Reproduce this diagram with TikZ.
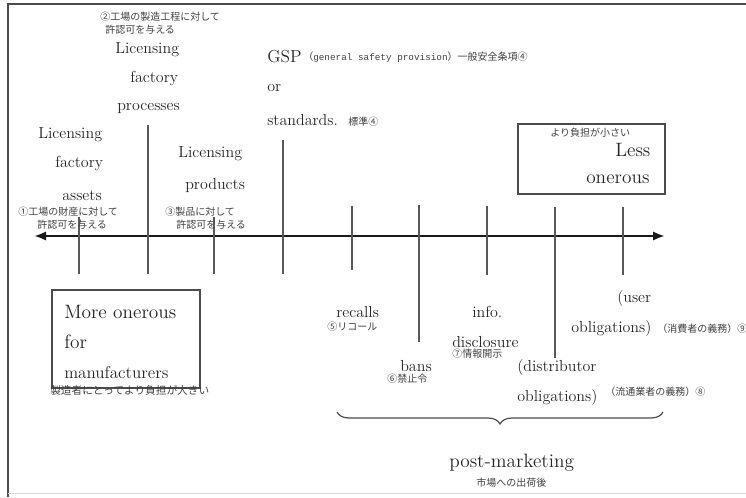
\documentclass[tikz,border=0pt]{standalone}
\usepackage{fontspec}
\newfontfamily\jpf{Noto Sans CJK JP}
\newfontfamily\monof{Liberation Mono}
\usetikzlibrary{arrows.meta,decorations.pathreplacing}
\begin{document}
\begin{tikzpicture}[x=0.75pt,y=-0.75pt,
  every node/.style={inner sep=0pt, anchor=west},
  en/.style={font=\fontsize{12}{14}\selectfont, text=black!85},
  big/.style={font=\fontsize{14.5}{16}\selectfont, text=black!85},
  jp/.style={font=\jpf\fontsize{7.5}{8.5}\selectfont, text=black!75},
  tickline/.style={draw=black!65, line width=1.2pt},
  boxline/.style={draw=black!70, line width=1pt}]
\useasboundingbox (0,0) rectangle (746,497);
\clip (0,0) rectangle (746,497);
% frame
\coordinate (fbl) at (8,497); \coordinate (ftl) at (8,4); \coordinate (ftr) at (746,4);
\draw[black!70, line width=1pt] (fbl) -- (ftl) -- (ftr);
\coordinate (fb1) at (8,493); \coordinate (fb2) at (746,493);
\draw[black!15, line width=0.6pt] (fb1) -- (fb2);
% axis
\coordinate (axL) at (34,236); \coordinate (axR) at (665,236);
\draw[line width=2pt, black!90, {Latex[length=9pt,width=7pt]}-{Latex[length=9pt,width=7pt]}] (axL) -- (axR);
% ticks
\foreach \n/\x/\a/\b in {1/79/217/274, 2/148/125/274, 3/214/217/274, 4/283/140/274, 5/352/206/270, 6/419/205/342, 7/487/206/275, 8/555/207/358, 9/623/207/275}{
  \coordinate (t\n a) at (\x,\a); \coordinate (t\n b) at (\x,\b);
  \draw[tickline] (t\n a) -- (t\n b);
}
% boxes
\coordinate (lb1) at (518,124); \coordinate (lb2) at (665,194);
\draw[boxline] (lb1) rectangle (lb2);
\coordinate (mb1) at (52,290); \coordinate (mb2) at (200,388);
\draw[boxline] (mb1) rectangle (mb2);
% brace
\coordinate (br1) at (337,412); \coordinate (br2) at (663,412);
\draw[black!70, line width=0.9pt, decorate, decoration={brace, mirror, amplitude=9pt}] (br1) -- (br2);
% texts: processes
\node[jp] (p1) at (100,17) {②工場の製造工程に対して};
\node[jp] (p2) at (105,30) {許認可を与える};
\node[en] (p3) at (115,50) {Licensing};
\node[en] (p4) at (130,78) {factory};
\node[en] (p5) at (117,108) {processes};
% assets
\node[en] (a1) at (38,135) {Licensing};
\node[en] (a2) at (55,163) {factory};
\node[en] (a3) at (62,196) {assets};
\node[jp] (a4) at (18,212) {①工場の財産に対して};
\node[jp] (a5) at (37,225) {許認可を与える};
% products
\node[en] (r1) at (178,154) {Licensing};
\node[en] (r2) at (185,185) {products};
\node[jp] (r3) at (165,212) {③製品に対して};
\node[jp] (r4) at (176,225) {許認可を与える};
% GSP
\node[en, font=\fontsize{13}{15}\selectfont] (g1) at (267,57) {GSP};
\node[jp] (g2) at (303,57) {（{\monof\fontsize{7}{8}\selectfont general safety provision}）一般安全条項④};
\node[en] (g3) at (267,88) {or};
\node[en] (g4) at (267,120) {standards.};
\node[jp] (g5) at (348,122) {標準④};
% less onerous
\node[jp] (l1) at (550,133) {より負担が小さい};
\node[big] (l2) at (615,150) {Less};
\node[big] (l3) at (586,179) {onerous};
% more onerous
\node[big] (m1) at (64,312) {More onerous};
\node[big] (m2) at (64,342) {for};
\node[big, font=\fontsize{12.8}{15}\selectfont] (m3) at (64,373) {manufacturers};
\node[jp, font=\jpf\fontsize{8}{9}\selectfont] (m4) at (50,390) {製造者にとってより負担が大きい};
% post-marketing items
\node[en] (c1) at (336,312) {recalls};
\node[jp] (c2) at (327,327) {⑤リコール};
\node[en] (b1) at (400,366) {bans};
\node[jp] (b2) at (387,379) {⑥禁止令};
\node[en] (i1) at (472,312) {info.};
\node[en] (i2) at (452,342) {disclosure};
\node[jp] (i3) at (452,354) {⑦情報開示};
\node[en] (u1) at (617,298) {(user};
\node[en] (u2) at (571,329) {obligations)};
\node[jp] (u3) at (657,329) {（消費者の義務）⑨};
\node[en] (d1) at (517,367) {(distributor};
\node[en] (d2) at (517,397) {obligations)};
\node[jp] (d3) at (605,392) {（流通業者の義務）⑧};
\node[big] (pm1) at (449,463) {post-marketing};
\node[jp] (pm2) at (476,483) {市場への出荷後};
\end{tikzpicture}
\end{document}
